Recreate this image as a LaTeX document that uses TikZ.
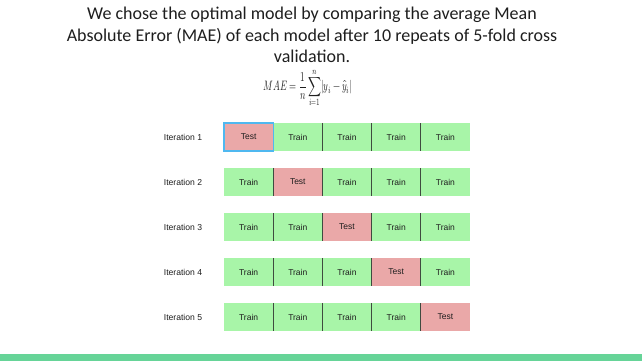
\documentclass[tikz,border=0pt]{standalone}
\usepackage{fontspec}
\setmainfont{Carlito}
\newfontfamily\cellfont{Liberation Sans}
\usepackage{amsmath}
\usepackage{graphicx}
\usepackage{unicode-math}
\setmathfont{Latin Modern Math}
\definecolor{traingreen}{HTML}{A8F5A8}
\definecolor{testred}{HTML}{EAA8A8}
\definecolor{barGreen}{HTML}{66D498}
\definecolor{divider}{HTML}{3F4A3F}
\definecolor{selblue}{HTML}{4FB8F0}
\definecolor{txt}{HTML}{1E1E1E}
\begin{document}
\begin{tikzpicture}[x=1pt,y=-1pt,
  cellbox/.style={minimum width=49.2pt,minimum height=28pt,inner sep=0pt,outer sep=0pt,font=\cellfont\fontsize{8.5}{10}\selectfont,text=txt},
  trainbox/.style={cellbox,fill=traingreen},
  testbox/.style={cellbox,fill=testred},
  iterlabel/.style={font=\cellfont\fontsize{8.6}{10}\selectfont,text=txt,anchor=center},
  divline/.style={draw=divider,line width=1.2pt}]
\useasboundingbox (0,0) rectangle (642,361);
\fill[barGreen] (0,354) rectangle (642,361);
\node[font=\fontsize{18}{21.5}\selectfont,align=center,text=txt] (title) at (312,35) {We chose the optimal model by comparing the average Mean\\Absolute Error (MAE) of each model after 10 repeats of 5-fold cross\\validation.};
\node[font=\fontsize{10.5}{13}\selectfont,text=txt,inner sep=0pt] (formula) at (308,88) {\scalebox{0.86}[1.3]{$\displaystyle MAE=\frac{1}{n}\sum_{i=1}^{n}\lvert y_i-\hat{y}_i\rvert$}};
\foreach \r/\t in {1/1,2/2,3/3,4/4,5/5}{
  \pgfmathsetmacro{\yy}{137+45*(\r-1)}
  \node[iterlabel] (lab\r) at (183,\yy) {Iteration \r};
  \foreach \c in {1,...,5}{
    \pgfmathsetmacro{\xx}{248.6+49.2*(\c-1)}
    \ifnum\c=\t
      \node[testbox] (c\r\c) at (\xx,\yy) {Test};
    \else
      \node[trainbox] (c\r\c) at (\xx,\yy) {Train};
    \fi
  }
  \foreach \c in {1,...,4}{
    \draw[divline] (c\r\c.north east) -- (c\r\c.south east);
  }
}
\draw[selblue,line width=1.2pt] (c11.south west) rectangle (c11.north east);
\end{tikzpicture}
\end{document}
